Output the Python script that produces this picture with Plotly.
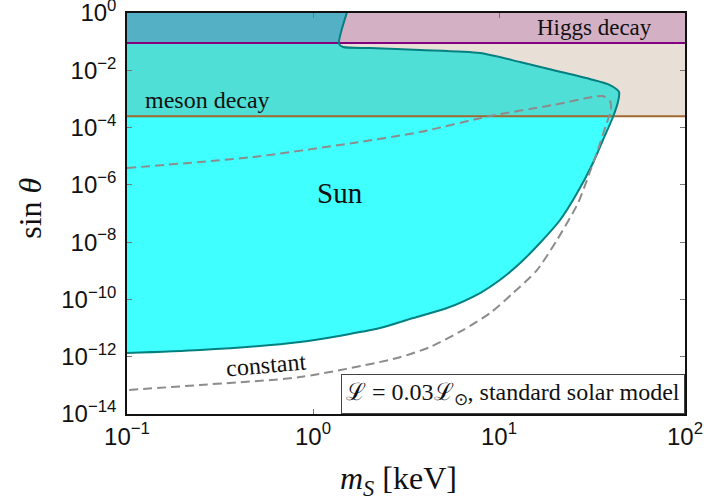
import plotly.graph_objects as go

# ---- data ----
X_RANGE = [0.1, 100.0]
Y_RANGE = [1e-14, 1.0]

x_tickvals = [0.1, 1, 10, 100]
x_ticktext = ["10<sup>−1</sup>", "10<sup>0</sup>", "10<sup>1</sup>", "10<sup>2</sup>"]
y_tickvals = [1e-14, 1e-12, 1e-10, 1e-8, 1e-6, 1e-4, 1e-2, 1]
y_ticktext = ["10<sup>−14</sup>", "10<sup>−12</sup>", "10<sup>−10</sup>", "10<sup>−8</sup>",
              "10<sup>−6</sup>", "10<sup>−4</sup>", "10<sup>−2</sup>", "10<sup>0</sup>"]

# Sun exclusion boundary (m_S [keV], sin theta)
sun_x = [1.52, 1.38, 1.45, 2.03, 3.76, 7.91, 12.97, 19.5, 30.8, 39.5, 44.2, 43.6,
         41.0, 36.2, 32.0, 26.3, 21.3, 16.6, 13.0, 10.1, 7.91, 5.25, 3.45, 2.29,
         0.851, 0.247, 0.1]
sun_y = [1.0, 0.0827, 0.065, 0.060, 0.051, 0.040, 0.0195, 0.0102, 4.96e-3, 3.06e-3,
         1.74e-3, 7.8e-4, 2.34e-4, 3.68e-5, 5.79e-6, 5.19e-7, 5.92e-8, 9.31e-9,
         1.87e-9, 4.75e-10, 1.67e-10, 5.0e-11, 2.24e-11, 1.0e-11, 3.26e-12,
         1.71e-12, 1.34e-12]

# "constant" luminosity curve (dashed)
const_x = [0.1, 0.475, 1.64, 3.76, 8.95, 19.5, 32.0, 36.2, 39.5, 40.0, 37.6, 34.0,
           30.8, 26.6, 20.5, 16.0, 11.9, 8.95, 6.40, 4.26, 2.83, 0.851, 0.247, 0.1]
const_y = [3.87e-6, 9.37e-6, 2.89e-5, 7.0e-5, 2.53e-4, 6.13e-4, 1.17e-3, 1.26e-3,
           8.46e-4, 4.1e-4, 1.23e-4, 1.65e-5, 2.81e-6, 2.32e-7, 1.19e-8, 1.06e-9,
           1.67e-10, 3.35e-11, 8.55e-12, 2.18e-12, 9.0e-13, 1.95e-13, 1.03e-13,
           6.87e-14]

higgs_limit = 0.09      # Higgs decay bound
meson_limit = 2.5e-4    # meson decay bound

SERIF = "Liberation Serif, Times New Roman, serif"
SANS = "Liberation Sans, Arial, sans-serif"

fig = go.Figure()

# Sun region fill (closed along the left axis edge)
fill_x = sun_x + [sun_x[-1], X_RANGE[0]]
fill_y = sun_y + [sun_y[-1], Y_RANGE[1]]
fig.add_trace(go.Scatter(x=fill_x, y=fill_y, mode="lines", fill="toself",
                         fillcolor="#40FFFF", line=dict(width=0, shape="spline", smoothing=0.7),
                         hoverinfo="skip", showlegend=False))

# meson decay band
fig.add_trace(go.Scatter(x=[X_RANGE[0], X_RANGE[1], X_RANGE[1], X_RANGE[0]],
                         y=[meson_limit, meson_limit, higgs_limit, higgs_limit],
                         mode="lines", fill="toself", fillcolor="rgba(142,93,49,0.2)",
                         line=dict(width=0), hoverinfo="skip", showlegend=False))
# Higgs decay band
fig.add_trace(go.Scatter(x=[X_RANGE[0], X_RANGE[1], X_RANGE[1], X_RANGE[0]],
                         y=[higgs_limit, higgs_limit, Y_RANGE[1], Y_RANGE[1]],
                         mode="lines", fill="toself", fillcolor="rgba(127,19,79,0.335)",
                         line=dict(width=0), hoverinfo="skip", showlegend=False))

# bound lines
fig.add_trace(go.Scatter(x=X_RANGE, y=[higgs_limit, higgs_limit], mode="lines",
                         line=dict(color="#800080", width=2), hoverinfo="skip", showlegend=False))
fig.add_trace(go.Scatter(x=X_RANGE, y=[meson_limit, meson_limit], mode="lines",
                         line=dict(color="#A0692F", width=2), hoverinfo="skip", showlegend=False))

# Sun outline
fig.add_trace(go.Scatter(x=sun_x, y=sun_y, mode="lines",
                         line=dict(color="#008080", width=2, shape="spline", smoothing=0.7),
                         hoverinfo="skip", showlegend=False))

# constant curve
fig.add_trace(go.Scatter(x=const_x, y=const_y, mode="lines",
                         line=dict(color="#8C8C8C", width=2, dash="9px,5px",
                                   shape="spline", smoothing=0.7),
                         hoverinfo="skip", showlegend=False))

annotations = [
    dict(x=1.5159, y=-0.523, xref="x", yref="y", text="Higgs decay", showarrow=False,
         font=dict(family=SERIF, size=23, color="#111")),
    dict(x=-0.914, y=-3.04, xref="x", yref="y", text="meson decay", showarrow=False,
         xanchor="left", font=dict(family=SERIF, size=24, color="#111")),
    dict(x=0.145, y=-6.285, xref="x", yref="y", text="Sun", showarrow=False,
         font=dict(family=SERIF, size=29, color="#111")),
    dict(x=-0.253, y=-12.29, xref="x", yref="y", text="constant", showarrow=False,
         textangle=-5, font=dict(family=SERIF, size=24, color="#111")),
    dict(x=1, y=0, xref="paper", yref="paper", xanchor="right", yanchor="bottom",
         text="ℒ = 0.03ℒ<sub>⊙</sub>, standard solar model", showarrow=False,
         bgcolor="white", bordercolor="#444", borderwidth=1, borderpad=4,
         font=dict(family=SERIF, size=24, color="#111")),
    dict(x=0.486, y=-0.165, xref="paper", yref="paper", xanchor="center", yanchor="middle",
         text="<i>m</i><sub><i>S</i></sub> [keV]",
         showarrow=False, font=dict(family=SERIF, size=32, color="#111")),
    dict(x=-0.174, y=0.514, xref="paper", yref="paper", xanchor="center", yanchor="middle",
         text="sin <i>θ</i>", textangle=-90,
         showarrow=False, font=dict(family=SERIF, size=32, color="#111")),
]

axis_common = dict(type="log", showgrid=False, zeroline=False, automargin=False,
                   ticks="inside", ticklen=5, tickwidth=1, tickcolor="#777",
                   showline=True, linecolor="#111", linewidth=1.5, mirror="allticks",
                   ticklabeloverflow="allow",
                   tickfont=dict(family=SANS, size=24, color="#111"))

fig.update_layout(
    width=707, height=502,
    margin=dict(l=127, r=22, t=13, b=88),
    paper_bgcolor="white", plot_bgcolor="white",
    xaxis=dict(range=[-1, 2], tickmode="array", tickvals=x_tickvals, ticktext=x_ticktext,
               **axis_common),
    yaxis=dict(range=[-14, 0], tickmode="array", tickvals=y_tickvals, ticktext=y_ticktext,
               ticklabelstandoff=4, **axis_common),
    annotations=annotations,
    showlegend=False,
)

fig.write_html("out.html", config={"displayModeBar": False},
               post_script="document.body.style.margin='0';document.body.style.overflow='hidden';")
